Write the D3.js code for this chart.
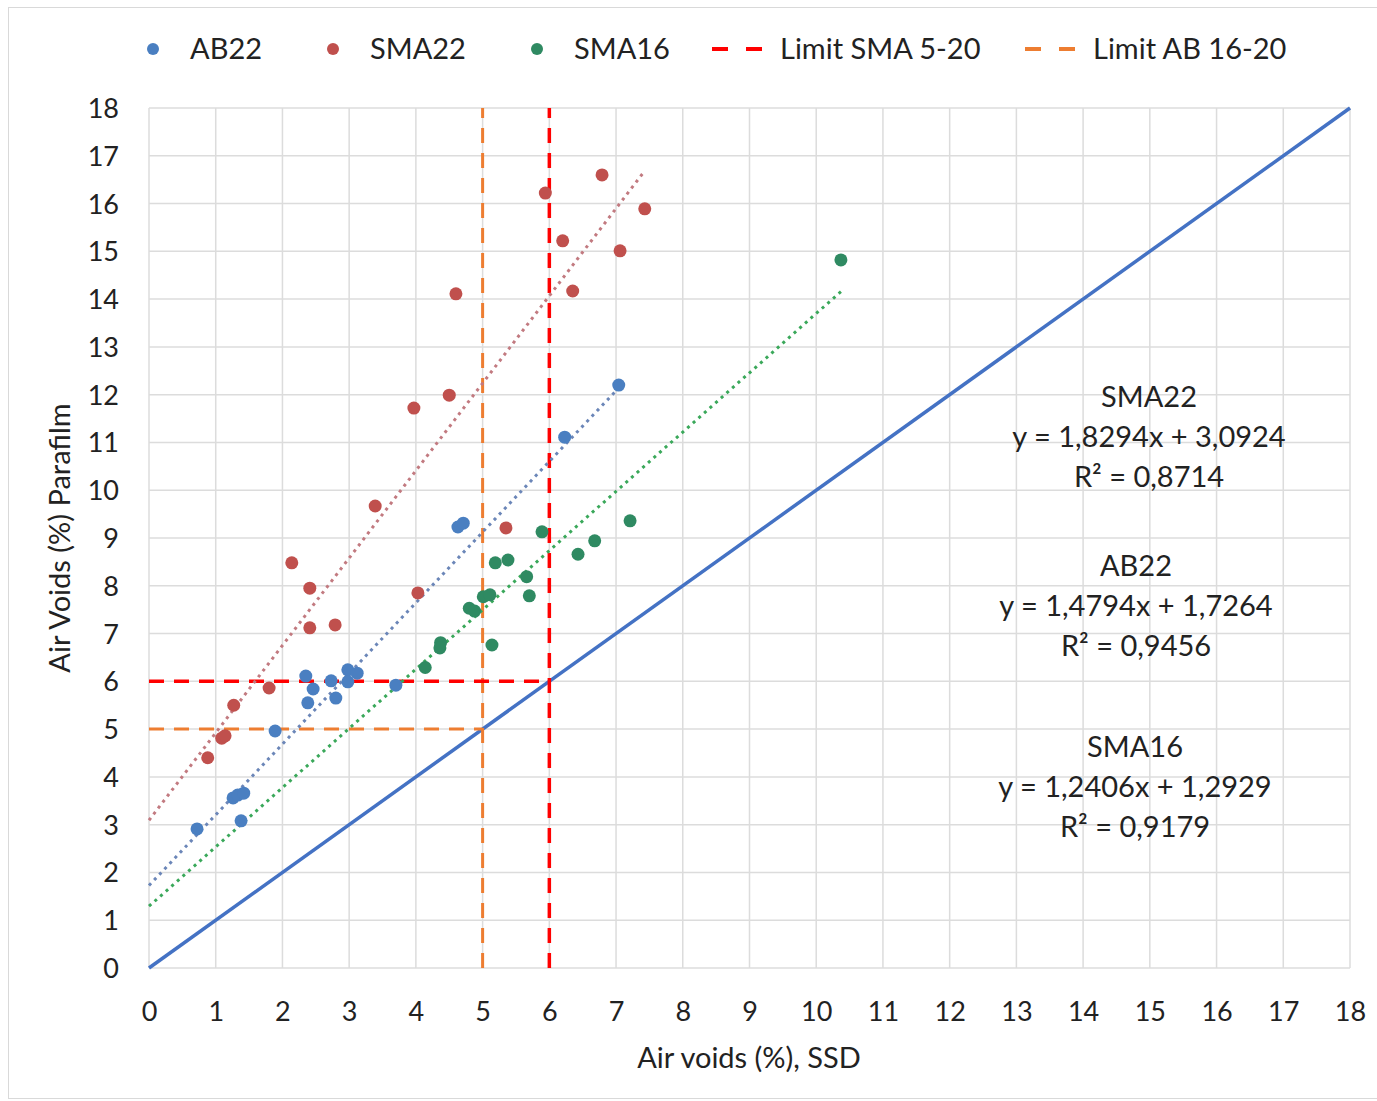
<!DOCTYPE html>
<html lang="en">
	<head>
		<meta charset="utf-8">
		<title>Air voids</title>
		<script src="https://cdn.jsdelivr.net/npm/d3@7"></script>
		<style>
			body { margin: 0; background: #fff; }
			svg text { font-family: Lato, "Open Sans", sans-serif; fill: #222; }
		</style>
	</head>
	<body>
		<script>
			//Data: [air voids SSD, air voids Parafilm]
			var ab22 = [[0.72,2.91],[1.26,3.56],[1.33,3.62],[1.42,3.66],[1.38,3.08],[1.89,4.96],
				[2.35,6.11],[2.38,5.55],[2.46,5.84],[2.73,6.01],[2.80,5.65],[2.98,6.24],[2.98,5.99],
				[3.12,6.17],[3.70,5.92],[4.63,9.23],[4.71,9.31],[6.23,11.11],[7.04,12.20]];
			var sma22 = [[0.88,4.40],[1.09,4.81],[1.14,4.86],[1.27,5.50],[1.80,5.86],[2.14,8.48],
				[2.41,7.95],[2.41,7.12],[2.79,7.18],[3.39,9.67],[3.97,11.72],[4.03,7.85],[4.50,11.99],
				[4.60,14.11],[5.35,9.21],[5.94,16.22],[6.20,15.22],[6.35,14.17],[6.79,16.60],
				[7.06,15.01],[7.43,15.89]];
			var sma16 = [[4.14,6.29],[4.37,6.81],[4.36,6.70],[4.80,7.53],[4.88,7.47],[5.01,7.77],
				[5.11,7.81],[5.14,6.76],[5.19,8.48],[5.38,8.54],[5.66,8.19],[5.70,7.79],[5.89,9.13],
				[6.43,8.66],[6.68,8.94],[7.21,9.36],[10.37,14.82]];

			//Trend lines: slope, intercept, r2
			var trends = [
				{ name: "SMA22", slope: 1.8294, icpt: 3.0924, r2: "0,8714", data: sma22 },
				{ name: "AB22", slope: 1.4794, icpt: 1.7264, r2: "0,9456", data: ab22 },
				{ name: "SMA16", slope: 1.2406, icpt: 1.2929, r2: "0,9179", data: sma16 }
			];
			var limitSMA = 6;
			var limitAB = 5;
			var ticks = d3.range(0, 19);

			(function() {
			var w = 1377, h = 1101;
			var mLeft = 149, mRight = 1350, mTop = 108, mBottom = 968;

			var svg = d3.select("body").append("svg")
				.attr("width", w)
				.attr("height", h);

			//outer frame
			svg.append("rect")
				.attr("x", 8.5).attr("y", 7.5)
				.attr("width", w - 6).attr("height", h - 10)
				.attr("fill", "none")
				.attr("stroke", "#d9d9d9");

			var x = d3.scaleLinear().domain([0, 18]).range([mLeft, mRight]);
			var y = d3.scaleLinear().domain([0, 18]).range([mBottom, mTop]);

			//grid
			svg.append("g").selectAll("line")
				.data(ticks).enter().append("line")
				.attr("x1", function(d) { return x(d); })
				.attr("x2", function(d) { return x(d); })
				.attr("y1", mTop).attr("y2", mBottom)
				.attr("stroke", "#dcdcdc").attr("stroke-width", 1.5);
			svg.append("g").selectAll("line")
				.data(ticks).enter().append("line")
				.attr("y1", function(d) { return y(d); })
				.attr("y2", function(d) { return y(d); })
				.attr("x1", mLeft).attr("x2", mRight)
				.attr("stroke", "#dcdcdc").attr("stroke-width", 1.5);

			//axes
			var xAxis = d3.axisBottom(x).tickValues(ticks).tickSize(0).tickPadding(30);
			var gx = svg.append("g").attr("transform", "translate(0," + mBottom + ")").call(xAxis);
			var yAxis = d3.axisLeft(y).tickValues(ticks).tickSize(0).tickPadding(30);
			var gy = svg.append("g").attr("transform", "translate(" + mLeft + ",0)").call(yAxis);
			[gx, gy].forEach(function(g) {
				g.select(".domain").remove();
				g.selectAll("text").attr("font-size", "27px").style("font-family", "Lato, sans-serif").attr("fill", "#222");
			});
			gx.selectAll("text").attr("dy", "0.85em");
			gy.selectAll("text").attr("dy", "0.35em");

			//axis titles
			svg.append("text")
				.attr("x", 749).attr("y", 1068)
				.attr("text-anchor", "middle")
				.attr("font-size", "29px")
				.text("Air voids (%), SSD");
			svg.append("text")
				.attr("transform", "translate(70,538) rotate(-90)")
				.attr("text-anchor", "middle")
				.attr("font-size", "29px")
				.text("Air Voids (%) Parafilm");

			//identity line
			svg.append("line")
				.attr("x1", x(0)).attr("y1", y(0))
				.attr("x2", x(18)).attr("y2", y(18))
				.attr("stroke", "#4472c4").attr("stroke-width", 3.5);

			//limit lines
			var dash = "15,10";
			svg.append("path")
				.attr("d", "M" + x(0) + "," + y(limitAB) + "H" + x(limitAB) + "M" + x(limitAB) + "," + y(0) + "V" + y(18))
				.attr("fill", "none").attr("stroke", "#ed7d31").attr("stroke-width", 3).attr("stroke-dasharray", dash);
			svg.append("path")
				.attr("d", "M" + x(0) + "," + y(limitSMA) + "H" + x(limitSMA) + "M" + x(limitSMA) + "," + y(0) + "V" + y(18))
				.attr("fill", "none").attr("stroke", "#ff0000").attr("stroke-width", 3.5).attr("stroke-dasharray", dash);

			var colors = { AB22: "#4a7fc1", SMA22: "#c0504d", SMA16: "#2f8a62" };
			var trendColors = { AB22: "#6b86b8", SMA22: "#c27a80", SMA16: "#3aa85a" };

			//trend lines (dotted)
			trends.forEach(function(t) {
				var xmax = d3.max(t.data, function(d) { return d[0]; });
				svg.append("line")
					.attr("x1", x(0)).attr("y1", y(t.icpt))
					.attr("x2", x(xmax)).attr("y2", y(t.icpt + t.slope * xmax))
					.attr("stroke", trendColors[t.name])
					.attr("stroke-width", 3)
					.attr("stroke-dasharray", "3,4.5");
			});

			//points
			[["AB22", ab22], ["SMA22", sma22], ["SMA16", sma16]].forEach(function(s) {
				svg.append("g").selectAll("circle")
					.data(s[1]).enter().append("circle")
					.attr("cx", function(d) { return x(d[0]); })
					.attr("cy", function(d) { return y(d[1]); })
					.attr("r", 6.5)
					.attr("fill", colors[s[0]]);
			});

			//equation labels
			var labelPos = { SMA22: [1149, 397], AB22: [1136, 566], SMA16: [1135, 747] };
			var fmt = function(v) { return d3.format(".4f")(v).replace(".", ","); };
			trends.forEach(function(t) {
				var p = labelPos[t.name];
				var g = svg.append("g").attr("text-anchor", "middle").attr("font-size", "29px");
				g.append("text").attr("x", p[0]).attr("y", p[1] + 10).text(t.name);
				g.append("text").attr("x", p[0]).attr("y", p[1] + 50)
					.text("y = " + fmt(t.slope) + "x + " + fmt(t.icpt));
				g.append("text").attr("x", p[0]).attr("y", p[1] + 90).text("R² = " + t.r2);
			});

			//legend
			var legend = [
				{ label: "AB22", type: "dot", color: colors.AB22, x: 153 },
				{ label: "SMA22", type: "dot", color: colors.SMA22, x: 333 },
				{ label: "SMA16", type: "dot", color: colors.SMA16, x: 537 },
				{ label: "Limit SMA 5-20", type: "dash", color: "#ff0000", x: 712 },
				{ label: "Limit AB 16-20", type: "dash", color: "#ed7d31", x: 1025 }
			];
			var lg = svg.append("g").selectAll("g").data(legend).enter().append("g")
				.attr("transform", function(d) { return "translate(" + d.x + ",49)"; });
			lg.filter(function(d) { return d.type === "dot"; }).append("circle")
				.attr("r", 6).attr("fill", function(d) { return d.color; });
			lg.filter(function(d) { return d.type === "dash"; }).append("line")
				.attr("x1", 0).attr("x2", 50)
				.attr("stroke", function(d) { return d.color; })
				.attr("stroke-width", 4)
				.attr("stroke-dasharray", "16,18");
			lg.append("text")
				.attr("x", function(d) { return d.type === "dot" ? 37 : 68; })
				.attr("dy", "0.35em")
				.attr("font-size", "29px")
				.text(function(d) { return d.label; });
			})();
		</script>
	</body>
</html>
